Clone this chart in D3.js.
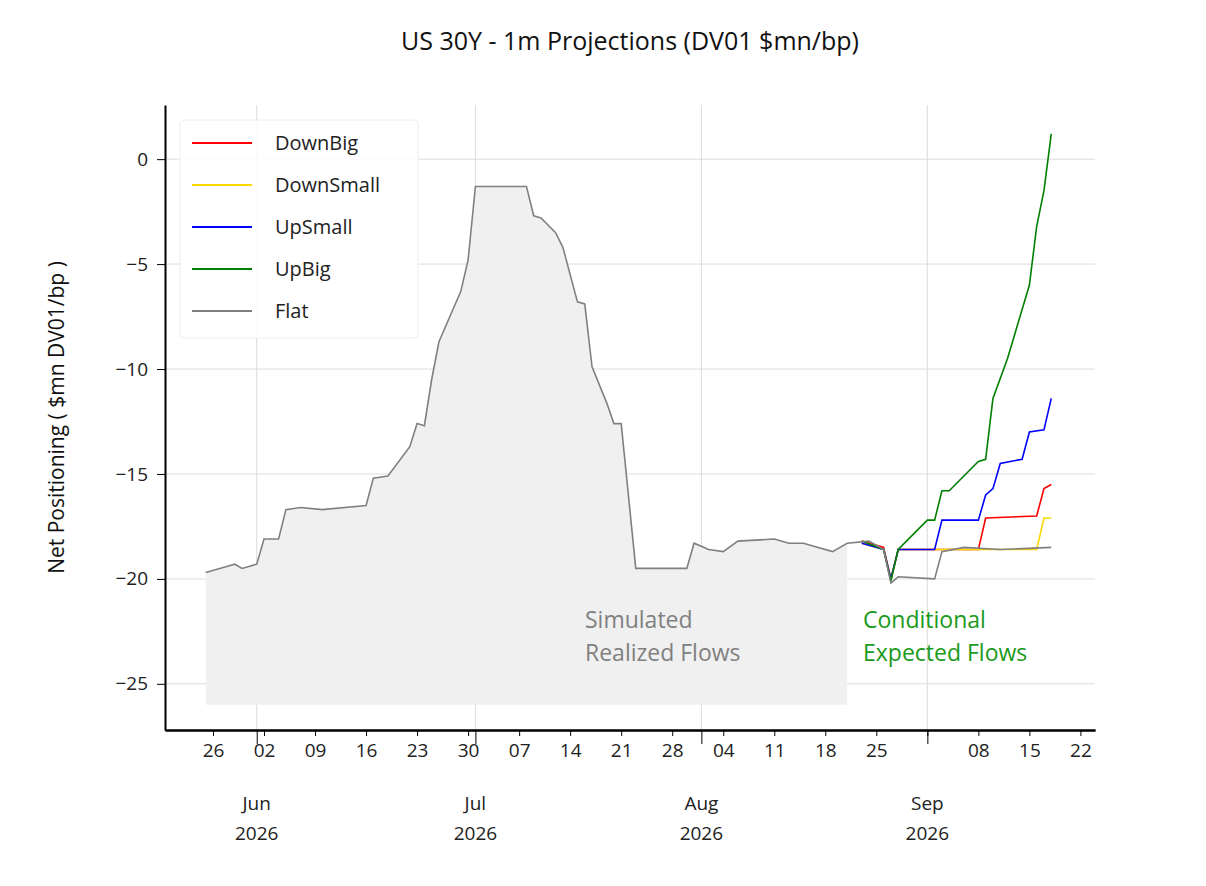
<!DOCTYPE html>
<html><head><meta charset="utf-8">
<script src="https://cdn.jsdelivr.net/npm/d3@7"></script>
<style>body{margin:0;background:#fff}text{font-family:"Open Sans","Noto Sans",sans-serif}</style>
</head><body><svg id="c" width="1206" height="886"></svg>
<script>
// day offsets from 2026-05-26
const startDay = new Date(2026, 4, 26);
const flatDays = [-1,2,3,4,6,7,9,10,12,15,21,22,24,27,28,29,30,31,34,35,36,43,44,45,47,48,50,51,52,54,55,56,58,65,66,68,70,72,77,79,81,85,87,90,92,93,94,99,100,103,108,115];
const flatVals = [-19.7,-19.4,-19.3,-19.5,-19.3,-18.1,-18.1,-16.7,-16.6,-16.7,-16.5,-15.2,-15.1,-13.7,-12.6,-12.7,-10.5,-8.7,-6.3,-4.8,-1.3,-1.3,-2.7,-2.8,-3.5,-4.2,-6.8,-6.9,-9.9,-11.6,-12.6,-12.6,-19.5,-19.5,-18.3,-18.6,-18.7,-18.2,-18.1,-18.3,-18.3,-18.7,-18.3,-18.2,-18.6,-20.2,-19.9,-20.0,-18.7,-18.5,-18.6,-18.5];
const greenDays = [89,92,93,94,98,99,100,101,105,106,107,109,112,113,114,115];
const greenVals = [-18.2,-18.6,-20.1,-18.6,-17.2,-17.2,-15.8,-15.8,-14.4,-14.3,-11.4,-9.5,-6.0,-3.2,-1.5,1.2];
const blueDays = [89,92,93,94,99,100,105,106,107,108,111,112,114,115];
const blueVals = [-18.3,-18.6,-20.0,-18.6,-18.6,-17.2,-17.2,-16.0,-15.7,-14.5,-14.3,-13.0,-12.9,-11.4];
const redDays = [89,92,93,94,100,105,106,113,114,115];
const redVals = [-18.2,-18.5,-20.0,-18.6,-18.6,-18.6,-17.1,-17.0,-15.7,-15.5];
const yellowDays = [89,92,93,94,100,113,114,115];
const yellowVals = [-18.3,-18.6,-20.0,-18.6,-18.6,-18.6,-17.1,-17.1];
const shadeEndDay = 88, shadeFloor = -26;
const legendNames = ["DownBig","DownSmall","UpSmall","UpBig","Flat"];
const legendColors = ["#ff0000","#ffd700","#0000ff","#008000","#808080"];
const yTicks = [0,-5,-10,-15,-20,-25];

const toDate = d => d3.timeDay.offset(startDay, d);
const pts = (ds, vs) => ds.map((d, i) => ({t: toDate(d), v: vs[i]}));

const svg = d3.select("#c");
const L = 165, R = 1095, T = 105, B = 730;
const x = d3.scaleTime().domain([new Date(2026,4,19,10), new Date(2026,8,24)]).range([L, R]);
const y = d3.scaleLinear().domain([-27.2, 2.58]).range([B, T]);

// grid
svg.append("g").selectAll("line").data(yTicks).join("line")
  .attr("x1", L).attr("x2", R).attr("y1", d => y(d)).attr("y2", d => y(d)).attr("stroke", "#dcdcdc");
const months = d3.timeMonth.range(new Date(2026,5,1), new Date(2026,8,2));
svg.append("g").selectAll("line").data(months).join("line")
  .attr("x1", d => x(d)).attr("x2", d => x(d)).attr("y1", T).attr("y2", B).attr("stroke", "#dcdcdc");

// shaded area
const flat = pts(flatDays, flatVals);
const shade = flat.filter(p => p.t <= toDate(shadeEndDay));
svg.append("path").datum(shade).attr("fill", "#f0f0f0")
  .attr("d", d3.area().x(p => x(p.t)).y0(y(shadeFloor)).y1(p => y(p.v)));

const line = d3.line().x(p => x(p.t)).y(p => y(p.v));
const series = [[redDays, redVals, legendColors[0]],[yellowDays, yellowVals, legendColors[1]],[blueDays, blueVals, legendColors[2]],[greenDays, greenVals, legendColors[3]],[flatDays, flatVals, legendColors[4]]];
series.forEach(([d, v, c]) => svg.append("path").datum(pts(d, v)).attr("fill", "none").attr("stroke", c).attr("stroke-width", 1.6).attr("d", line));

// axes
const ya = svg.append("g").attr("transform", `translate(${L},0)`).call(d3.axisLeft(y).tickValues(yTicks).tickSize(8).tickSizeOuter(0).tickFormat(d => d === 0 ? "0" : "\u2212" + Math.abs(d)));
const weeks = d3.timeTuesday.range(toDate(0), new Date(2026,8,23));
const xa = svg.append("g").attr("transform", `translate(0,${B})`).call(d3.axisBottom(x).tickValues(weeks).tickSize(6).tickSizeOuter(0).tickFormat(d => d.getDate() === 1 ? "" : d3.timeFormat("%d")(d)));
const xm = svg.append("g").attr("transform", `translate(0,${B})`).call(d3.axisBottom(x).tickValues(months).tickSize(14).tickSizeOuter(0).tickFormat(""));
[ya, xa, xm].forEach(g => { g.select(".domain").attr("stroke", "#000").attr("stroke-width", 2); g.selectAll("text").attr("font-size", 19).attr("fill", "#222"); });
ya.selectAll("text").attr("dx", -6);
xa.selectAll("text").attr("dy", 18);
const ml = svg.append("g").selectAll("text").data(months).join("text").attr("x", d => x(d)).attr("text-anchor", "middle").attr("font-size", 19).attr("fill", "#222");
ml.append("tspan").attr("x", d => x(d)).attr("y", 810).text(d3.timeFormat("%b"));
ml.append("tspan").attr("x", d => x(d)).attr("y", 840).text("2026");

// texts
svg.append("text").attr("x", 630).attr("y", 50).attr("text-anchor", "middle").attr("font-size", 25).attr("fill", "#111").text("US 30Y - 1m Projections (DV01 $mn/bp)");
svg.append("text").attr("transform", `translate(64,${(T+B)/2}) rotate(-90)`).attr("text-anchor", "middle").attr("font-size", 21).attr("fill", "#111").text("Net Positioning  ( $mn DV01/bp )");
const ann = (xx, lines, col) => lines.forEach((s, i) => svg.append("text").attr("x", xx).attr("y", 628 + i * 33).attr("font-size", 23).attr("fill", col).text(s));
ann(585, ["Simulated", "Realized Flows"], "#808080");
ann(863, ["Conditional", "Expected Flows"], "#1a9a1a");

// legend
const lg = svg.append("g");
lg.append("rect").attr("x", 180).attr("y", 120).attr("width", 238).attr("height", 218).attr("rx", 4).attr("fill", "#fff").attr("fill-opacity", 0.85).attr("stroke", "#eee");
legendNames.forEach((n, i) => {
  const yy = 143 + i * 42;
  lg.append("line").attr("x1", 192).attr("x2", 252).attr("y1", yy).attr("y2", yy).attr("stroke", legendColors[i]).attr("stroke-width", 2);
  lg.append("text").attr("x", 275).attr("y", yy + 7).attr("font-size", 20).attr("fill", "#222").text(n);
});
</script></body></html>
